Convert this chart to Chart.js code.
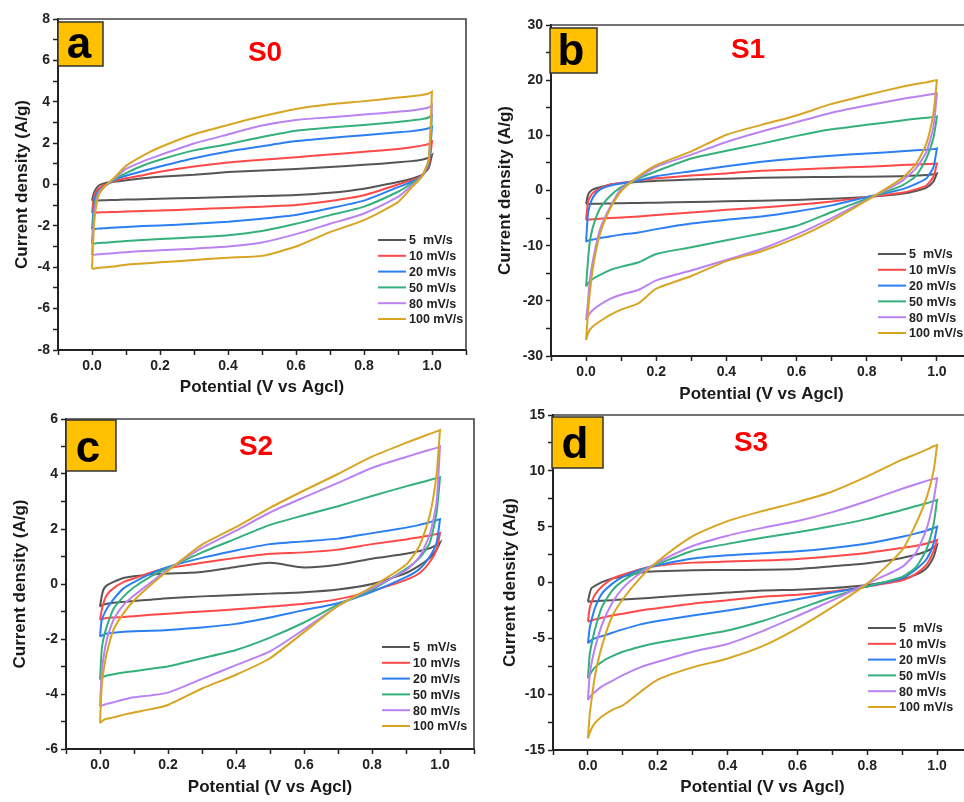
<!DOCTYPE html>
<html>
<head>
<meta charset="utf-8">
<script src="https://cdn.jsdelivr.net/npm/chart.js@4.4.1/dist/chart.umd.min.js"></script>
<style>
html, body { margin: 0; padding: 0; background: #fff; width: 964px; height: 802px; overflow: hidden; }
canvas { position: absolute; }
</style>
</head>
<body>
<canvas id="cvS0" width="480" height="400" style="left:0;top:0"></canvas>
<canvas id="cvS1" width="502" height="410" style="left:480px;top:0"></canvas>
<canvas id="cvS2" width="490" height="402" style="left:0;top:400px"></canvas>
<canvas id="cvS3" width="502" height="402" style="left:480px;top:400px"></canvas>
<script>
// potential grid (V vs Ag/AgCl), shared by both sweep directions
const potential = [0, 0.005, 0.01, 0.02, 0.04, 0.07, 0.1, 0.15, 0.2, 0.3, 0.4, 0.5, 0.6, 0.7, 0.8, 0.9, 0.94, 0.97, 0.99, 1];
const rates = ["5  mV/s", "10 mV/s", "20 mV/s", "50 mV/s", "80 mV/s", "100 mV/s"];

// S0 current density (A/g), one row per scan rate
const s0Anodic = [
  [-0.78, -0.45, -0.25, -0.05, 0.07, 0.14, 0.2, 0.3, 0.38, 0.47, 0.6, 0.68, 0.75, 0.85, 0.95, 1.07, 1.13, 1.2, 1.3, 1.43],
  [-1.36, -0.7, -0.4, -0.2, 0.0, 0.18, 0.3, 0.45, 0.62, 0.87, 1.06, 1.2, 1.32, 1.45, 1.58, 1.72, 1.8, 1.88, 1.96, 2.07],
  [-2.17, -1.1, -0.6, -0.3, -0.05, 0.25, 0.42, 0.65, 0.87, 1.27, 1.6, 1.85, 2.1, 2.25, 2.38, 2.52, 2.58, 2.65, 2.72, 2.8],
  [-2.87, -1.5, -0.8, -0.35, -0.05, 0.3, 0.55, 0.92, 1.2, 1.65, 1.95, 2.3, 2.6, 2.75, 2.88, 3.02, 3.1, 3.16, 3.24, 3.36],
  [-3.41, -1.8, -1.0, -0.4, -0.05, 0.35, 0.75, 1.12, 1.42, 1.98, 2.42, 2.85, 3.12, 3.25, 3.38, 3.52, 3.58, 3.65, 3.72, 3.84],
  [-4.08, -2.2, -1.3, -0.5, -0.05, 0.4, 0.9, 1.4, 1.8, 2.43, 2.88, 3.3, 3.65, 3.88, 4.03, 4.2, 4.27, 4.33, 4.4, 4.49]
];
const s0Cathodic = [
  [-0.78, -0.78, -0.77, -0.77, -0.76, -0.75, -0.73, -0.71, -0.69, -0.65, -0.6, -0.56, -0.51, -0.4, -0.2, 0.12, 0.28, 0.45, 0.8, 1.43],
  [-1.36, -1.36, -1.35, -1.35, -1.34, -1.33, -1.31, -1.28, -1.26, -1.2, -1.13, -1.07, -0.99, -0.8, -0.52, 0.0, 0.2, 0.42, 0.9, 2.07],
  [-2.17, -2.16, -2.15, -2.13, -2.11, -2.08, -2.05, -2.01, -1.98, -1.9, -1.8, -1.65, -1.47, -1.15, -0.78, -0.13, 0.12, 0.4, 1.0, 2.8],
  [-2.87, -2.86, -2.85, -2.83, -2.81, -2.77, -2.73, -2.68, -2.64, -2.55, -2.45, -2.25, -1.9, -1.48, -1.07, -0.35, 0.05, 0.4, 1.1, 3.36],
  [-3.41, -3.4, -3.39, -3.37, -3.35, -3.31, -3.27, -3.22, -3.18, -3.1, -3.0, -2.8, -2.4, -1.9, -1.4, -0.6, -0.05, 0.38, 1.15, 3.84],
  [-4.08, -4.07, -4.05, -4.03, -4.0, -3.95, -3.88, -3.82, -3.76, -3.65, -3.54, -3.45, -3.0, -2.3, -1.72, -0.85, -0.15, 0.38, 1.2, 4.49]
];

// S1
const s1Anodic = [
  [-2.45, -0.9, -0.3, 0.2, 0.6, 1.1, 1.3, 1.6, 1.75, 2.0, 2.15, 2.3, 2.4, 2.45, 2.5, 2.6, 2.7, 2.8, 2.95, 3.1],
  [-5.35, -2.2, -1.3, -0.4, 0.4, 1.1, 1.4, 1.8, 2.2, 2.7, 3.1, 3.6, 3.8, 4.1, 4.3, 4.6, 4.7, 4.8, 4.85, 4.9],
  [-9.3, -4.5, -2.8, -1.2, 0.2, 0.9, 1.3, 1.8, 2.6, 3.5, 4.4, 5.2, 5.8, 6.3, 6.7, 7.1, 7.3, 7.4, 7.5, 7.6],
  [-17.4, -13, -9.6, -6.5, -3.2, -0.9, 0.6, 2.2, 3.5, 5.8, 7.2, 8.5, 9.9, 11.1, 11.9, 12.7, 13.0, 13.2, 13.3, 13.4],
  [-23.5, -20.5, -16.5, -12.5, -7.0, -2.8, 0.3, 2.4, 4.3, 6.5, 8.8, 10.7, 12.4, 14.1, 15.4, 16.6, 17.0, 17.3, 17.5, 17.6],
  [-27.1, -22.5, -19, -13.8, -7.8, -3.1, -0.1, 2.6, 4.6, 7.1, 10.1, 11.9, 13.6, 15.7, 17.3, 18.8, 19.3, 19.6, 19.9, 20.0]
];
const s1Cathodic = [
  [-2.45, -2.45, -2.45, -2.4, -2.4, -2.35, -2.3, -2.25, -2.2, -2.1, -1.95, -1.85, -1.7, -1.5, -1.2, -0.6, -0.1, 0.5, 1.6, 3.1],
  [-5.35, -5.3, -5.25, -5.2, -5.1, -5.0, -4.9, -4.7, -4.45, -4.0, -3.5, -3.1, -2.6, -2.0, -1.2, -0.4, 0.2, 0.9, 2.5, 4.9],
  [-9.3, -9.1, -9.0, -8.9, -8.6, -8.3, -8.0, -7.6, -7.0, -6.0, -5.3, -4.7, -3.8, -2.7, -1.2, 0.2, 1.2, 2.2, 4.2, 7.6],
  [-17.4, -16.9, -16.5, -16.0, -15.3, -14.4, -13.8, -13.0, -11.5, -10.3, -9.0, -7.8, -6.4, -3.9, -1.5, 0.9, 2.6, 5.8, 9.5, 13.4],
  [-23.5, -22.8, -22.3, -21.6, -20.7, -19.6, -18.9, -18.0, -16.3, -14.5, -12.6, -10.6, -8.0, -5.0, -1.7, 1.7, 4.0, 7.0, 11.5, 17.6],
  [-27.1, -26, -25.3, -24.6, -23.7, -22.5, -21.6, -20.4, -17.8, -15.5, -12.8, -11.0, -8.6, -5.5, -1.8, 2.2, 4.8, 8.5, 14.0, 20.0]
];

// S2
const s2Anodic = [
  [-0.82, -0.45, -0.21, -0.05, 0.08, 0.22, 0.28, 0.35, 0.38, 0.44, 0.62, 0.77, 0.6, 0.7, 0.92, 1.1, 1.2, 1.3, 1.42, 1.51],
  [-1.3, -0.95, -0.7, -0.4, -0.15, 0.08, 0.2, 0.42, 0.58, 0.77, 0.95, 1.1, 1.15, 1.25, 1.45, 1.62, 1.7, 1.76, 1.82, 1.85],
  [-1.91, -1.3, -1.15, -0.9, -0.55, -0.15, 0.07, 0.38, 0.62, 0.95, 1.22, 1.45, 1.55, 1.65, 1.85, 2.05, 2.15, 2.25, 2.32, 2.36],
  [-3.48, -2.39, -2.0, -1.54, -0.9, -0.45, -0.12, 0.28, 0.58, 1.15, 1.65, 2.15, 2.5, 2.83, 3.2, 3.55, 3.68, 3.78, 3.85, 3.88],
  [-4.45, -3.24, -2.7, -2.03, -1.3, -0.75, -0.42, 0.06, 0.52, 1.31, 1.94, 2.6, 3.15, 3.68, 4.22, 4.62, 4.77, 4.88, 4.95, 5.0],
  [-5.06, -3.72, -3.2, -2.51, -1.65, -1.05, -0.6, -0.03, 0.48, 1.43, 2.07, 2.77, 3.4, 4.0, 4.63, 5.13, 5.32, 5.46, 5.55, 5.6]
];
const s2Cathodic = [
  [-0.82, -0.78, -0.75, -0.72, -0.68, -0.65, -0.62, -0.57, -0.52, -0.45, -0.4, -0.35, -0.3, -0.2, 0.0, 0.4, 0.68, 0.95, 1.25, 1.51],
  [-1.3, -1.28, -1.26, -1.24, -1.22, -1.2, -1.17, -1.12, -1.08, -1.0, -0.92, -0.82, -0.72, -0.55, -0.25, 0.15, 0.4, 0.8, 1.25, 1.85],
  [-1.91, -1.88, -1.85, -1.8, -1.77, -1.74, -1.72, -1.7, -1.67, -1.58, -1.45, -1.22, -0.95, -0.7, -0.28, 0.25, 0.55, 1.0, 1.5, 2.36],
  [-3.48, -3.42, -3.38, -3.33, -3.28, -3.22, -3.17, -3.08, -3.0, -2.7, -2.4, -1.95, -1.4, -0.75, -0.2, 0.55, 0.95, 1.5, 2.6, 3.88],
  [-4.45, -4.42, -4.4, -4.36, -4.3, -4.2, -4.12, -4.05, -3.95, -3.45, -2.95, -2.45, -1.65, -0.8, -0.15, 0.5, 1.0, 1.8, 3.0, 5.0],
  [-5.06, -5.0, -4.95, -4.9, -4.85, -4.75, -4.67, -4.55, -4.4, -3.8, -3.3, -2.7, -1.75, -0.8, -0.1, 0.7, 1.4, 2.5, 4.0, 5.6]
];

// S3
const s3Anodic = [
  [-1.72, -1.0, -0.52, -0.3, 0.03, 0.36, 0.55, 0.88, 1.0, 1.1, 1.12, 1.14, 1.2, 1.45, 1.72, 2.2, 2.5, 2.8, 3.15, 3.36],
  [-3.51, -2.31, -1.8, -1.1, -0.35, 0.35, 0.7, 1.2, 1.5, 1.78, 1.88, 1.96, 2.1, 2.35, 2.65, 3.1, 3.3, 3.5, 3.7, 3.81],
  [-5.45, -4.1, -3.4, -2.3, -1.0, -0.1, 0.5, 1.15, 1.55, 2.15, 2.44, 2.62, 2.8, 3.1, 3.5, 4.1, 4.4, 4.65, 4.88, 5.0],
  [-8.58, -6.49, -5.6, -4.2, -2.2, -0.7, 0.15, 1.05, 1.65, 2.85, 3.46, 4.0, 4.5, 5.05, 5.7, 6.5, 6.85, 7.1, 7.3, 7.39],
  [-10.52, -8.28, -7.3, -5.9, -3.8, -1.8, -0.5, 0.85, 1.8, 3.27, 4.19, 4.89, 5.5, 6.3, 7.3, 8.4, 8.8, 9.1, 9.28, 9.33],
  [-13.96, -11.87, -10.6, -8.4, -5.7, -3.0, -1.5, 0.42, 1.9, 4.15, 5.5, 6.4, 7.2, 8.15, 9.5, 11.0, 11.5, 11.9, 12.2, 12.31]
];
const s3Cathodic = [
  [-1.72, -1.71, -1.7, -1.68, -1.64, -1.58, -1.52, -1.43, -1.33, -1.1, -0.9, -0.72, -0.64, -0.5, -0.22, 0.3, 0.7, 1.3, 2.3, 3.36],
  [-3.51, -3.45, -3.4, -3.3, -3.15, -2.95, -2.8, -2.5, -2.3, -1.9, -1.6, -1.27, -1.1, -0.8, -0.35, 0.2, 0.8, 1.6, 2.8, 3.81],
  [-5.45, -5.3, -5.15, -5.0, -4.8, -4.5, -4.2, -3.75, -3.45, -2.95, -2.5, -2.0, -1.5, -0.9, -0.35, 0.4, 1.2, 2.1, 3.5, 5.0],
  [-8.58, -8.3, -8.0, -7.6, -7.1, -6.6, -6.2, -5.75, -5.4, -4.85, -4.3, -3.45, -2.4, -1.3, -0.35, 0.5, 1.4, 3.0, 5.2, 7.39],
  [-10.52, -10.3, -10.1, -9.8, -9.3, -8.8, -8.3, -7.6, -7.1, -6.2, -5.5, -4.35, -3.0, -1.6, -0.1, 1.4, 2.7, 4.8, 7.4, 9.33],
  [-13.96, -13.5, -13.1, -12.6, -12.0, -11.4, -11.0, -9.8, -8.7, -7.6, -6.8, -5.7, -4.1, -2.2, -0.1, 2.9, 5.3, 7.6, 10.0, 12.31]
];

const rateColors = ["#555555", "#ff4848", "#2b7ff2", "#34b07c", "#bb82f2", "#d8a523"];
const fontFamily = '"Liberation Sans", Arial, sans-serif';

Chart.defaults.font.family = fontFamily;
Chart.defaults.color = "#222";

// forward sweep 0 -> 1 V, then reverse sweep back to 0 V
function cvLoop(up, down) {
  const pts = potential.map((x, i) => ({ x: x, y: up[i] }));
  for (let i = potential.length - 1; i >= 0; i--) pts.push({ x: potential[i], y: down[i] });
  return pts;
}

// top and right sides of the plot box
const frame = {
  id: "frame",
  afterDraw(chart) {
    const { ctx, chartArea: a } = chart;
    ctx.save();
    ctx.strokeStyle = "#444";
    ctx.lineWidth = 1.6;
    ctx.beginPath();
    ctx.moveTo(a.left, a.top);
    ctx.lineTo(a.right, a.top);
    ctx.lineTo(a.right, a.bottom);
    ctx.stroke();
    ctx.restore();
  }
};

// scan-rate key drawn inside the plot
const cvLegend = {
  id: "cvLegend",
  afterDatasetsDraw(chart, args, opts) {
    const { ctx, chartArea: a } = chart;
    ctx.save();
    ctx.font = "bold 12.5px " + fontFamily;
    ctx.textBaseline = "middle";
    ctx.textAlign = "left";
    chart.data.datasets.forEach((ds, i) => {
      const x = a.left + opts.left;
      const y = a.top + opts.top + i * 15.8;
      ctx.strokeStyle = ds.borderColor;
      ctx.lineWidth = 2;
      ctx.beginPath();
      ctx.moveTo(x, y);
      ctx.lineTo(x + 28, y);
      ctx.stroke();
      ctx.fillStyle = "#222";
      ctx.fillText(ds.label, x + 31, y + 1);
    });
    ctx.restore();
  }
};

// panel letter in the orange box and the sample name
const panelMark = {
  id: "panelMark",
  afterDraw(chart, args, o) {
    const { ctx, chartArea: a } = chart;
    ctx.save();
    ctx.fillStyle = "#ffc000";
    ctx.fillRect(a.left + o.box[0], a.top + o.box[1], o.box[2], o.box[3]);
    ctx.strokeStyle = "#333";
    ctx.lineWidth = 1.5;
    ctx.strokeRect(a.left + o.box[0], a.top + o.box[1], o.box[2], o.box[3]);
    ctx.fillStyle = "#000";
    ctx.textAlign = "center";
    ctx.textBaseline = "alphabetic";
    ctx.font = "bold 44px " + fontFamily;
    ctx.fillText(o.letter, a.left + o.letterAt[0], a.top + o.letterAt[1]);
    ctx.fillStyle = "#ff0000";
    ctx.font = "bold 28px " + fontFamily;
    ctx.fillText(o.name, a.left + o.nameAt[0], a.top + o.nameAt[1]);
    ctx.restore();
  }
};

function isMajor(v, step) {
  const q = v / step;
  return Math.abs(q - Math.round(q)) < 1e-6;
}

function cvChart(id, up, down, cfg) {
  return new Chart(document.getElementById(id), {
    type: "scatter",
    data: {
      datasets: rates.map((r, i) => ({
        label: r,
        data: cvLoop(up[i], down[i]),
        showLine: true,
        borderColor: rateColors[i],
        borderWidth: 2,
        pointRadius: 0,
        tension: 0.2,
        order: rates.length - i
      }))
    },
    options: {
      responsive: false,
      animation: false,
      events: [],
      layout: { padding: cfg.pad },
      plugins: {
        legend: { display: false },
        tooltip: { enabled: false },
        cvLegend: cfg.legend,
        panelMark: cfg.mark
      },
      scales: {
        x: {
          type: "linear",
          position: "bottom",
          min: -0.1,
          max: 1.1,
          afterFit: s => { s.height = cfg.xh; },
          ticks: {
            stepSize: 0.1,
            autoSkip: false,
            maxRotation: 0,
            padding: 3,
            color: "#222",
            font: { size: 14, weight: "bold" },
            callback: v => {
              const t = Math.round(v * 10);
              return t >= 0 && t <= 10 && t % 2 === 0 ? (t / 10).toFixed(1) : "";
            }
          },
          grid: { drawOnChartArea: false, tickLength: 5, tickWidth: 1.5, tickColor: "#222" },
          border: { color: "#222", width: 2 },
          title: {
            display: true,
            text: "Potential (V vs Agcl)",
            color: "#1a1a1a",
            font: { size: 17, weight: "bold" },
            padding: { top: 0, bottom: cfg.xtp }
          }
        },
        y: {
          type: "linear",
          position: "left",
          min: cfg.ymin,
          max: cfg.ymax,
          afterFit: s => { s.width = cfg.yw; },
          ticks: {
            stepSize: cfg.minor,
            autoSkip: false,
            padding: 3,
            color: "#222",
            font: { size: 14, weight: "bold" },
            callback: v => isMajor(v, cfg.major) ? String(Math.round(v)) : ""
          },
          grid: { drawOnChartArea: false, tickLength: 5, tickWidth: 1.5, tickColor: "#222" },
          border: { color: "#222", width: 2 },
          title: {
            display: true,
            text: "Current density (A/g)",
            color: "#1a1a1a",
            font: { size: 17, weight: "bold" },
            padding: { top: cfg.ytp, bottom: 0 }
          }
        }
      }
    },
    plugins: [frame, cvLegend, panelMark]
  });
}

cvChart("cvS0", s0Anodic, s0Cathodic, {
  pad: { top: 19, right: 14, left: 0, bottom: 0 }, yw: 58, xh: 50, xtp: 2, ytp: 12,
  ymin: -8, ymax: 8, minor: 1, major: 2,
  legend: { left: 320, top: 221 },
  mark: { letter: "a", name: "S0", box: [0, 3, 45, 44], letterAt: [21, 39], nameAt: [207, 42] }
});

cvChart("cvS1", s1Anodic, s1Cathodic, {
  pad: { top: 25, right: 10, left: 0, bottom: 0 }, yw: 71, xh: 54, xtp: 5, ytp: 15,
  ymin: -30, ymax: 30, minor: 5, major: 10,
  legend: { left: 327, top: 229 },
  mark: { letter: "b", name: "S1", box: [-1, 3, 47, 45], letterAt: [20, 40], nameAt: [197, 33] }
});

cvChart("cvS2", s2Anodic, s2Cathodic, {
  pad: { top: 19, right: 16, left: 0, bottom: 0 }, yw: 66, xh: 53, xtp: 4, ytp: 10,
  ymin: -6, ymax: 6, minor: 1, major: 2,
  legend: { left: 316, top: 228 },
  mark: { letter: "c", name: "S2", box: [0, 1, 50, 51], letterAt: [22, 43], nameAt: [190, 36] }
});

cvChart("cvS3", s3Anodic, s3Cathodic, {
  pad: { top: 15, right: 10, left: 0, bottom: 0 }, yw: 73, xh: 52, xtp: 4, ytp: 20,
  ymin: -15, ymax: 15, minor: 2.5, major: 5,
  legend: { left: 315, top: 213 },
  mark: { letter: "d", name: "S3", box: [-1, 2, 51, 51], letterAt: [22, 43], nameAt: [198, 36] }
});
</script>
</body>
</html>
